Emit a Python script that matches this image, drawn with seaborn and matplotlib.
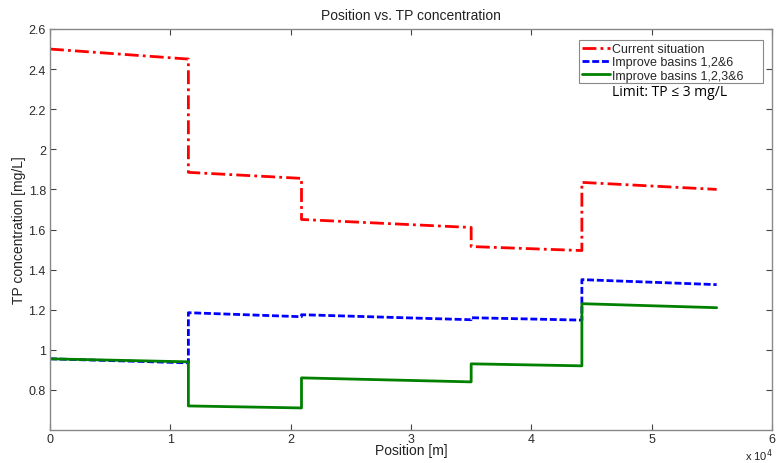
import numpy as np
import pandas as pd
import matplotlib
matplotlib.use("Agg")
import matplotlib.pyplot as plt
from matplotlib.patches import Rectangle
import seaborn as sns

# Position along the river [m]; each step repeated to draw the vertical jumps
position = [0, 11500, 11500, 20900, 20900, 35000, 35000, 44200, 44200, 55400]

# TP concentration [mg/L] for each scenario
current = [2.50, 2.45, 1.885, 1.855, 1.65, 1.61, 1.515, 1.495, 1.835, 1.80]
basins_126 = [0.955, 0.935, 1.185, 1.165, 1.175, 1.15, 1.16, 1.148, 1.35, 1.325]
basins_1236 = [0.955, 0.94, 0.72, 0.71, 0.86, 0.84, 0.93, 0.92, 1.23, 1.21]

series_names = ["Current situation", "Improve basins 1,2&6", "Improve basins 1,2,3&6"]
x_ticks = [0, 1, 2, 3, 4, 5, 6]
y_ticks = [0.8, 1.0, 1.2, 1.4, 1.6, 1.8, 2.0, 2.2, 2.4, 2.6]
y_tick_labels = ["0.8", "1", "1.2", "1.4", "1.6", "1.8", "2", "2.2", "2.4", "2.6"]


def main():
    sns.set_style("white")
    plt.rcParams["font.family"] = ["Liberation Sans", "DejaVu Sans"]

    fig = plt.figure(figsize=(7.77, 4.64), dpi=100)
    ax = fig.add_axes([50 / 777, 33 / 464, 722 / 777, 401 / 464])

    styles = [("red", (0, (5, 1.5, 1, 1.5))), ("blue", (0, (2.5, 1))), ("green", "-")]
    for name, values, (color, ls) in zip(series_names, [current, basins_126, basins_1236], styles):
        df = pd.DataFrame({"x": np.array(position) / 1e4, "y": values})
        sns.lineplot(data=df, x="x", y="y", sort=False, estimator=None, ax=ax,
                     color=color, linestyle=ls, linewidth=2, label=name)

    ax.set_xlim(0, 6)
    ax.set_ylim(0.6, 2.6)
    ax.set_xticks(x_ticks)
    ax.set_yticks(y_ticks)
    ax.set_yticklabels(y_tick_labels)
    ax.tick_params(direction="in", length=4, width=0.8, color="#444444",
                   labelsize=9, labelcolor="#2a2a2a", top=True, right=True,
                   bottom=True, left=True)
    ax.tick_params(axis="x", pad=2)
    ax.tick_params(axis="y", pad=3)
    for sp in ax.spines.values():
        sp.set_color("#888888")
        sp.set_linewidth(1)

    ax.set_title("Position vs. TP concentration", fontsize=10, color="#222222", pad=7)
    ax.set_xlabel("Position [m]", fontsize=10, color="#222222", labelpad=-1)
    ax.set_ylabel("TP concentration [mg/L]", fontsize=10, color="#222222", labelpad=2)
    fig.text(745 / 777, 1 - 456 / 464, r"x 10$^4$", fontsize=8, color="#222222",
             ha="left", va="center")

    # legend without its own frame; MATLAB-like box drawn separately
    ax.legend(loc="upper left", bbox_to_anchor=(579 / 777, 1 - 41 / 464),
              bbox_transform=fig.transFigure, fontsize=9, frameon=False,
              handlelength=2.2, handletextpad=0.2, borderpad=0.25,
              labelspacing=0.1, borderaxespad=0)
    fig.patches.append(Rectangle((579 / 777, 1 - 84 / 464), 184 / 777, 43 / 464,
                                 transform=fig.transFigure, fill=True, facecolor="none",
                                 edgecolor="#888888", linewidth=0.8, zorder=5))

    fig.text(670 / 777, 1 - 93 / 464, "Limit: TP \u2264 3 mg/L", fontsize=10,
             family=["Open Sans", "DejaVu Sans"], ha="center", va="center", color="black")

    fig.savefig("out.png", dpi=100)


if __name__ == "__main__":
    main()
